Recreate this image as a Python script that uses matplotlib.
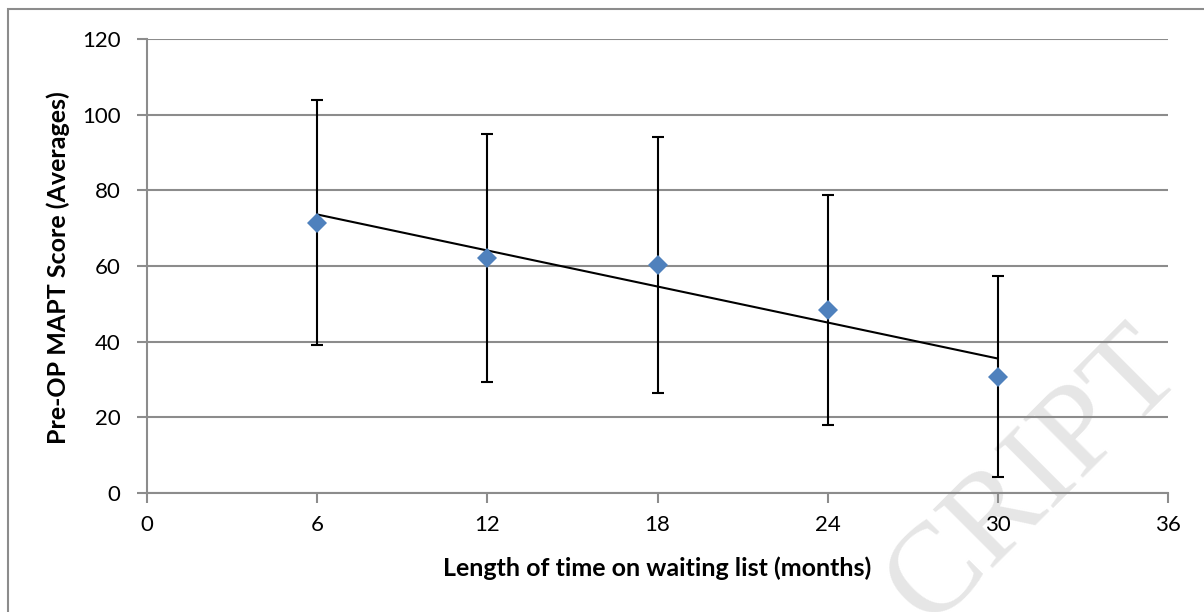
import matplotlib
matplotlib.use("Agg")
import matplotlib.pyplot as plt
import numpy as np
from matplotlib.patches import Rectangle

months = [6, 12, 18, 24, 30]
scores = [71.4, 62.2, 60.2, 48.4, 30.7]
upper = [103.9, 94.9, 94.0, 78.8, 57.4]
lower = [39.1, 29.3, 26.4, 18.0, 4.3]
x_ticks = [0, 6, 12, 18, 24, 30, 36]
y_ticks = [0, 20, 40, 60, 80, 100, 120]

plt.rcParams['font.family'] = ['Lato', 'DejaVu Sans']

fig = plt.figure(figsize=(12.04, 6.12), dpi=100)

# background layer for watermark (under the chart)
bg = fig.add_axes([0, 0, 1, 1], zorder=0)
bg.set_axis_off()
bg.set_xlim(0, 1)
bg.set_ylim(0, 1)
bg.text(1035/1204, 1-478/612, 'CRIPT', ha='center', va='center', rotation=45,
        fontsize=92, family='Liberation Serif', color='#e6e6e6', clip_on=True)

ax = fig.add_axes([147/1204, 1-493/612, (1168-147)/1204, (493-39)/612], zorder=1)
ax.patch.set_alpha(0)

grid_c = '#8c8c8c'
x = np.array(months, dtype=float)
y = np.array(scores)
yerr = np.array([y - np.array(lower), np.array(upper) - y])

# trend line
m, b = np.polyfit(x, y, 1)
ax.plot([x.min(), x.max()], [m*x.min()+b, m*x.max()+b], color='black', lw=1.5, zorder=3)

ax.errorbar(x, y, yerr=yerr, fmt='none', ecolor='black', elinewidth=1.5,
            capsize=4.5, capthick=1.5, zorder=4)
ax.plot(x, y, 'D', color='#4F81BD', markersize=10, markeredgewidth=0, zorder=5)

ax.set_xlim(0, 36)
ax.set_ylim(0, 120)
ax.set_xticks(x_ticks)
ax.set_yticks(y_ticks)
ax.set_xticklabels([str(t) for t in x_ticks])
ax.set_yticklabels([str(t) for t in y_ticks])
ax.yaxis.grid(True, color=grid_c, lw=1.5)
ax.set_axisbelow(True)
for s in ['top', 'right']:
    ax.spines[s].set_visible(False)
for s in ['left', 'bottom']:
    ax.spines[s].set_color(grid_c)
    ax.spines[s].set_linewidth(1.5)
ax.tick_params(axis='both', direction='out', length=7, width=1.5, color=grid_c,
               labelsize=16, labelcolor='black')
ax.tick_params(axis='x', pad=9)
ax.tick_params(axis='y', pad=12)

fig.text(657/1204, 1-568/612, 'Length of time on waiting list (months)', ha='center', va='center',
         fontsize=18, fontweight='bold')
fig.text(58/1204, 1-268/612, 'Pre-OP MAPT Score (Averages)', ha='center', va='center',
         rotation=90, fontsize=18, fontweight='bold')

# outer chart frame
fig.patches.append(Rectangle((8/1204, -0.1), 1.2, 1-9/612+0.1, transform=fig.transFigure,
                             fill=False, edgecolor=grid_c, lw=1.5, clip_on=False))

fig.savefig('out.png', dpi=100)
